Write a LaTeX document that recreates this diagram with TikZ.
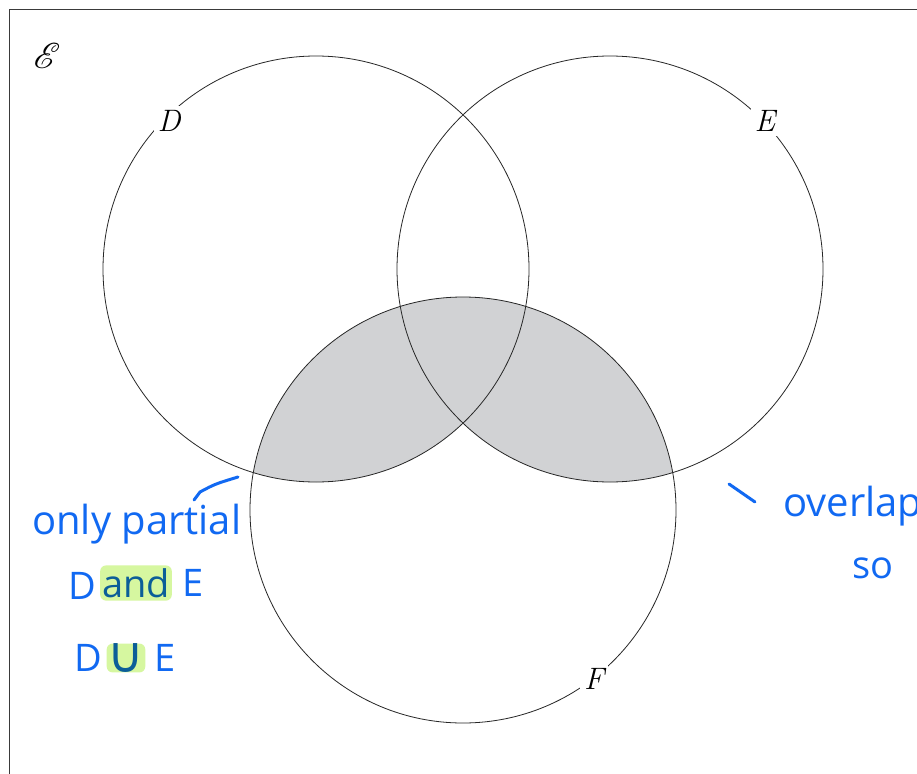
\documentclass[tikz,border=0pt]{standalone}
\usepackage{fontspec}
\usepackage{mathrsfs}
\newfontfamily\hand{Open Sans}
\newfontfamily\symf{DejaVu Sans}
\usepackage{tikz}
\definecolor{vennshade}{HTML}{D1D2D4}
\definecolor{ink}{HTML}{1169F2}
\definecolor{inkdark}{HTML}{0B5E98}
\definecolor{hl}{HTML}{D6F7A0}
\definecolor{framecol}{HTML}{3A3A3A}
\tikzset{
  vcircle/.style={draw=black!85, line width=0.8pt},
  setlabel/.style={fill=white, inner sep=4pt, font=\fontsize{31}{36}\selectfont\itshape},
  handtxt/.style={text=ink, inner sep=0pt, font=\hand\fontsize{38}{44}\selectfont},
  hlnode/.style={handtxt, text=inkdark, fill=hl, rounded corners=6pt, inner xsep=2pt, inner ysep=3pt},
  stroke/.style={draw=ink, line width=3pt, line cap=round}
}
\begin{document}
\begin{tikzpicture}[x=1pt,y=-1pt]
\useasboundingbox (0,0) rectangle (917,773);
\clip (0,0) rectangle (917,773);
\fill[white] (0,0) rectangle (917,773);
\draw[framecol, line width=1pt] (9,10) rectangle (940,800);
% shading F cap (D cup E)
\begin{scope}
  \clip (463,510) circle (213);
  \fill[vennshade] (316,269) circle (213);
  \fill[vennshade] (610,269) circle (213);
\end{scope}
\draw[vcircle] (316,269) circle (213);
\draw[vcircle] (610,269) circle (213);
\draw[vcircle] (463,510) circle (213);
\node[setlabel] (lD) at (169,121) {D};
\node[setlabel] (lE) at (765,121) {E};
\node[setlabel] (lF) at (594,679) {F};
\node[inner sep=0pt] (univ) at (47,56) {\scalebox{3.6}{$\mathscr{E}$}};
% handwriting
\node[handtxt, anchor=west, font=\hand\fontsize{40}{44}\selectfont] (t1) at (32,524) {only partial};
\node[handtxt] (t2D) at (82,586) {D};
\node[hlnode] (t2and) at (136,583) {and};
\node[handtxt] (t2E) at (193,583) {E};
\node[handtxt] (t3D) at (88,658) {D};
\node[hlnode, font=\symf\fontsize{50}{54}\selectfont, inner xsep=1pt, inner ysep=0pt] (t3u) at (126,658) {∪};
\node[handtxt] (t3E) at (165,658) {E};
\node[handtxt, anchor=west, font=\hand\fontsize{40}{44}\selectfont] (t4) at (783,506) {overlap};
\node[handtxt] (t5) at (873,568) {so};
\coordinate (s1a) at (194,500);
\coordinate (s1b) at (200,492);
\coordinate (s1c) at (238,477);
\draw[stroke] (s1a) -- (s1b) .. controls (215,484) .. (s1c);
\coordinate (s2a) at (729,484);
\coordinate (s2b) at (755,502);
\draw[stroke] (s2a) -- (s2b);
\end{tikzpicture}
\end{document}
